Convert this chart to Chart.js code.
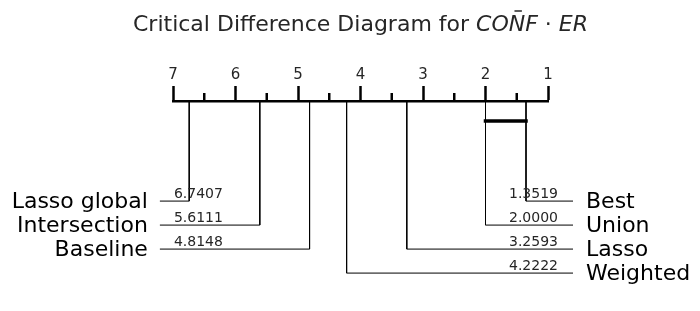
<!DOCTYPE html>
<html>
<head>
<meta charset="utf-8">
<script src="https://cdn.jsdelivr.net/npm/chart.js@4/dist/chart.umd.min.js"></script>
<style>
  html, body { margin: 0; padding: 0; background: #fff; }
  #wrap { width: 700px; height: 311px; }
</style>
</head>
<body>
<div id="wrap"><canvas id="cd" width="700" height="311"></canvas></div>
<script>
// average ranks, best first
const methods = ['Best', 'Union', 'Lasso', 'Weighted', 'Baseline', 'Intersection', 'Lasso global'];
const avgRanks = [1.3519, 2.0000, 3.2593, 4.2222, 4.8148, 5.6111, 6.7407];
const rankTicks = [1, 2, 3, 4, 5, 6, 7];
// groups not significantly different (indices into methods)
const cliques = [[0, 1]];

const minRank = rankTicks[0];
const maxRank = rankTicks[rankTicks.length - 1];
const nRight = Math.ceil(methods.length / 2);

// rows below the axis, in y units (1 unit = one label row)
const firstRow = 4.17;
const cliqueRow = 0.83;
const leftEnd = maxRank + 0.21;
const rightEnd = minRank - 0.4;

const rowOf = i => i < nRight ? firstRow + i : firstRow + (methods.length - 1 - i);
const sideOf = i => i < nRight ? 'right' : 'left';

const datasets = [];
methods.forEach((m, i) => {
  const y = rowOf(i);
  const end = sideOf(i) === 'right' ? rightEnd : leftEnd;
  datasets.push({
    label: m,
    data: [{x: avgRanks[i], y: 0}, {x: avgRanks[i], y: y}, {x: end, y: y}],
    borderColor: '#000',
    borderWidth: 1,
    showLine: true,
    pointRadius: 0,
    tension: 0,
    clip: false
  });
});
cliques.forEach(c => {
  const rs = c.map(i => avgRanks[i]);
  datasets.push({
    label: 'clique',
    data: [{x: Math.max(...rs), y: cliqueRow}, {x: Math.min(...rs), y: cliqueRow}],
    borderColor: '#000',
    borderWidth: 3.5,
    borderCapStyle: 'square',
    showLine: true,
    pointRadius: 0,
    clip: false
  });
});

const textPlugin = {
  id: 'cdText',
  afterDraw(chart) {
    const ctx = chart.ctx;
    const xs = chart.scales.x, ys = chart.scales.y;
    const area = chart.chartArea;
    ctx.save();

    // minor ticks
    ctx.strokeStyle = '#000';
    ctx.lineWidth = 2.5;
    for (let r = minRank + 0.5; r < maxRank; r += 1) {
      const px = xs.getPixelForValue(r);
      ctx.beginPath();
      ctx.moveTo(px, area.top);
      ctx.lineTo(px, area.top - 8);
      ctx.stroke();
    }

    // method names and rank values
    methods.forEach((m, i) => {
      const py = ys.getPixelForValue(rowOf(i));
      const right = sideOf(i) === 'right';
      const endPx = xs.getPixelForValue(right ? rightEnd : leftEnd);
      ctx.fillStyle = '#000';
      ctx.font = '22px "DejaVu Sans"';
      ctx.textBaseline = 'alphabetic';
      ctx.textAlign = right ? 'left' : 'right';
      ctx.fillText(m, right ? endPx + 13 : endPx - 12, py + 7);
      ctx.font = '14px "DejaVu Sans"';
      ctx.fillStyle = '#262626';
      ctx.textAlign = right ? 'right' : 'left';
      ctx.fillText(avgRanks[i].toFixed(4), right ? endPx - 15 : endPx + 14, py - 3);
    });

    // title with math part
    const normal = '22px "DejaVu Sans"';
    const ital = 'oblique 22px "DejaVu Sans"';
    const parts = [
      {t: 'Critical Difference Diagram for ', f: normal},
      {t: 'CO', f: ital},
      {t: 'N', f: ital, bar: true},
      {t: 'F', f: ital},
      {t: ' \u00b7 ', f: normal},
      {t: 'ER', f: ital}
    ];
    let total = 0;
    parts.forEach(p => { ctx.font = p.f; p.w = ctx.measureText(p.t).width; total += p.w; });
    let x = (area.left + area.right) / 2 - total / 2;
    const base = 31;
    ctx.fillStyle = '#262626';
    ctx.strokeStyle = '#262626';
    ctx.textAlign = 'left';
    ctx.textBaseline = 'alphabetic';
    parts.forEach(p => {
      ctx.font = p.f;
      ctx.fillText(p.t, x, base);
      if (p.bar) {
        ctx.lineWidth = 1.5;
        ctx.beginPath();
        ctx.moveTo(x + p.w * 0.35, base - 20);
        ctx.lineTo(x + p.w * 0.8, base - 20);
        ctx.stroke();
      }
      x += p.w;
    });
    ctx.restore();
  }
};

new Chart(document.getElementById('cd'), {
  type: 'scatter',
  data: { datasets },
  options: {
    responsive: false,
    animation: false,
    devicePixelRatio: 1,
    layout: { padding: { left: 173, right: 152, top: 66, bottom: 18 } },
    plugins: { legend: { display: false }, tooltip: { enabled: false }, title: { display: false } },
    scales: {
      x: {
        type: 'linear',
        position: 'top',
        reverse: true,
        min: minRank,
        max: maxRank,
        afterBuildTicks: s => { s.ticks = rankTicks.map(v => ({value: v})); },
        afterFit: s => { s.height = 35; },
        ticks: {
          color: '#262626',
          padding: 2,
          font: { family: 'DejaVu Sans', size: 15 },
          maxRotation: 0,
          callback: v => String(v)
        },
        grid: {
          drawOnChartArea: false,
          drawTicks: true,
          tickLength: 15,
          tickWidth: 2.5,
          tickColor: '#000'
        },
        border: { display: true, color: '#000', width: 2.5 }
      },
      y: {
        type: 'linear',
        display: false,
        reverse: true,
        min: 0,
        max: 8
      }
    }
  },
  plugins: [textPlugin]
});
</script>
</body>
</html>
